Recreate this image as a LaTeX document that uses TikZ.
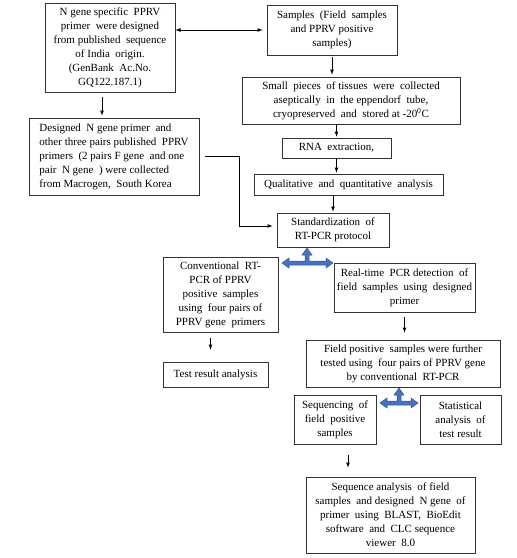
\documentclass[tikz,border=0pt]{standalone}
\usepackage{fontspec}
\setmainfont{Liberation Serif}
\usetikzlibrary{positioning}
\definecolor{arrowblue}{RGB}{68,114,196}
\definecolor{arrowedge}{RGB}{47,82,143}
% blue T arrow: junction, left, right, up
\newcommand{\teearrow}[4]{%
	\filldraw[fill=arrowblue, draw=arrowedge, line width=0.5pt, shift={(#1)}]
		(-#2,0) -- ({-#2+7},-5) -- ({-#2+7},-2) -- (-2,-2) -- (-2,{-#4+7}) -- (-5,{-#4+7})
		-- (0,-#4) -- (5,{-#4+7}) -- (2,{-#4+7}) -- (2,-2) -- ({#3-7},-2) -- ({#3-7},-5)
		-- (#3,0) -- ({#3-7},5) -- ({#3-7},2) -- ({-#2+7},2) -- ({-#2+7},5) -- cycle;
}

\begin{document}
\begin{tikzpicture}[
			x=1pt, y=-1pt, >=latex,
			font=\fontsize{11}{14}\selectfont,
			boxnode/.style={rectangle, draw=black!80, line width=0.6pt, fill=white, align=center, inner sep=2pt},
			flow/.style={->, line width=0.8pt},
			]
			\useasboundingbox (0,0) rectangle (517,558);
			%Nodes
			\node[boxnode, minimum width=130pt, minimum height=89pt] (ngene) at (110,47.5)
				{N gene specific\ \ PPRV\\ primer\ \ were designed\\ from published\ \ sequence\\ of India\ \ origin.\\ (GenBank\ \ Ac.No.\\ GQ122.187.1)};
			\node[boxnode, minimum width=130pt, minimum height=50pt] (samples) at (332,30)
				{Samples\ \ (Field\ \ samples\\ and PPRV positive\\ samples)};
			\node[boxnode, align=left, minimum width=170pt, minimum height=77pt] (primers) at (114,156.5)
				{Designed\ \ N gene primer\ \ and\\ other three pairs published\ \ PPRV\\ primers\ \ (2 pairs F gene\ \ and one\\ pair\ \ N gene\ \ ) were collected\\ from Macrogen,\ \ South Korea};
			\node[boxnode, minimum width=218pt, minimum height=47pt] (tissue) at (351,100.5)
				{Small\ \ pieces\ \ of tissues\ \ were\ \ collected\\ aseptically\ \ in\ \ the eppendorf\ \ tube,\\ cryopreserved\ \ and\ \ stored at -20\textsuperscript{0}C};
			\node[boxnode, minimum width=109pt, minimum height=20pt] (rna) at (336.5,148)
				{RNA\ \ extraction,};
			\node[boxnode, minimum width=189pt, minimum height=21pt] (qual) at (348.5,184.5)
				{Qualitative\ \ and\ \ quantitative\ \ analysis};
			\node[boxnode, minimum width=112pt, minimum height=34pt] (std) at (333,230)
				{Standardization\ \ of\\ RT-PCR protocol};
			\node[boxnode, minimum width=115pt, minimum height=75pt] (conv) at (220.5,294.5)
				{Conventional\ \ RT-\\ PCR of PPRV\\ positive\ \ samples\\ using\ \ four pairs of\\ PPRV gene\ \ primers};
			\node[boxnode, minimum width=141pt, minimum height=49pt] (realtime) at (404.5,287.5)
				{Real-time\ \ PCR detection\ \ of\\ field\ \ samples\ \ using\ \ designed\\ primer};
			\node[boxnode, minimum width=105pt, minimum height=25pt] (test) at (215.5,374.5)
				{Test result analysis};
			\node[boxnode, minimum width=194pt, minimum height=47pt] (field) at (403,363.5)
				{Field positive\ \ samples were further\\ tested using\ \ four pairs of PPRV gene\\ by conventional\ \ RT-PCR};
			\node[boxnode, minimum width=82pt, minimum height=49pt] (seq) at (335,419.5)
				{Sequencing\ \ of\\ field\ \ positive\\ samples};
			\node[boxnode, minimum width=81pt, minimum height=49pt] (stat) at (460.5,419.5)
				{Statistical\\ analysis\ \ of\\ test result};
			\node[boxnode, minimum width=169pt, minimum height=76pt] (seqan) at (390.5,515)
				{Sequence analysis\ \ of field\\ samples\ \ and designed\ \ N gene\ \ of\\ primer\ \ using\ \ BLAST,\ \ BioEdit\\ software\ \ and\ \ CLC sequence\\ viewer\ \ 8.0};
			\coordinate (t1) at (307,263);
			\coordinate (t2) at (399,403);

			%Lines
			\draw[flow, <->, shorten >=4pt] (ngene.east |- samples.west) -- (samples.west);
			\draw[flow, shorten <=5pt, shorten >=2pt] ([xshift=-8pt]ngene.south) -- ([xshift=-8pt]ngene.south |- primers.north);
			\draw[flow, shorten <=2pt, shorten >=2pt] (samples.south) -- (samples.south |- tissue.north);
			\draw[flow, shorten >=1pt] (rna.north |- tissue.south) -- (rna.north);
			\draw[flow, shorten >=1pt] (rna.south) -- (rna.south |- qual.north);
			\draw[flow, shorten >=1pt] (std.north |- qual.south) -- (std.north);
			\draw[flow, shorten <=6pt, shorten >=4pt] (primers.east) -- ++(40,0) |- ([yshift=4pt]std.west);
			\draw[flow, shorten <=6pt, shorten >=12pt] ([xshift=-10pt]conv.south) -- ([xshift=-10pt]conv.south |- test.north);
			\draw[flow, shorten <=5pt, shorten >=7pt] (realtime.south) -- (realtime.south |- field.north);
			\draw[flow, shorten <=11pt, shorten >=9pt] ([xshift=13pt]seq.south) -- ([xshift=13pt]seq.south |- seqan.north);

			%Blue arrows
			\teearrow{t1}{25}{26}{15}
			\teearrow{t2}{19}{19}{15}
		\end{tikzpicture}
\end{document}
